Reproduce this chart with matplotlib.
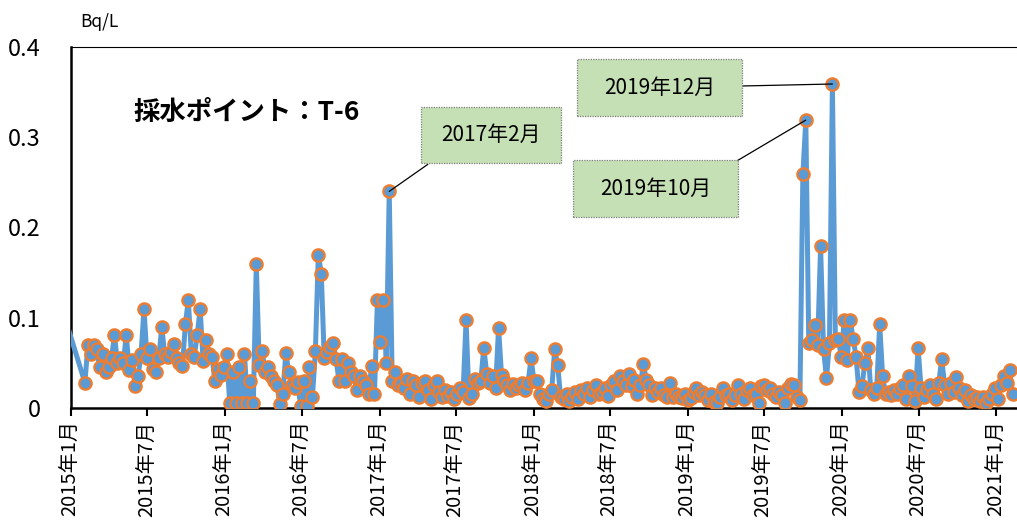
import matplotlib
matplotlib.use("Agg")
import matplotlib.pyplot as plt
from matplotlib.patches import Rectangle
import pandas as pd

plt.rcParams['font.family'] = ['Noto Sans CJK JP', 'DejaVu Sans']

# ---- data ----
lead_date = "2014-12-09"
lead_value = 0.113
start_date = "2015-02-03"   # weekly sampling afterwards
values = [
    0.028, 0.070, 0.060, 0.070, 0.065, 0.045, 0.060, 0.040, 0.045, 0.055,
    0.081, 0.050, 0.055, 0.050, 0.081, 0.042, 0.053, 0.024, 0.035, 0.060,
    0.110, 0.055, 0.065, 0.043, 0.040, 0.055, 0.090, 0.060, 0.057, 0.062,
    0.071, 0.055, 0.050, 0.046, 0.093, 0.120, 0.060, 0.057, 0.081, 0.110,
    0.052, 0.075, 0.060, 0.057, 0.030, 0.043, 0.037, 0.045, 0.060, 0.005,
    0.040, 0.005, 0.045, 0.005, 0.060, 0.005, 0.030, 0.005, 0.160, 0.048,
    0.063, 0.040, 0.045, 0.035, 0.030, 0.025, 0.004, 0.016, 0.061, 0.040,
    0.026, 0.022, 0.029, 0.002, 0.030, 0.002, 0.045, 0.012, 0.063, 0.170,
    0.149, 0.055, 0.062, 0.068, 0.072, 0.054, 0.030, 0.054, 0.030, 0.050,
    0.040, 0.035, 0.020, 0.035, 0.030, 0.026, 0.015, 0.046, 0.015, 0.120,
    0.073, 0.120, 0.050, 0.240, 0.030, 0.040, 0.025, 0.028, 0.022, 0.032,
    0.015, 0.030, 0.025, 0.012, 0.028, 0.030, 0.020, 0.010, 0.025, 0.030,
    0.018, 0.012, 0.020, 0.013, 0.018, 0.010, 0.015, 0.022, 0.018, 0.097,
    0.011, 0.016, 0.032, 0.028, 0.030, 0.067, 0.038, 0.028, 0.036, 0.022,
    0.089, 0.037, 0.030, 0.025, 0.020, 0.027, 0.022, 0.025, 0.028, 0.020,
    0.028, 0.055, 0.030, 0.030, 0.016, 0.010, 0.008, 0.015, 0.020, 0.065,
    0.048, 0.012, 0.010, 0.015, 0.008, 0.012, 0.018, 0.010, 0.020, 0.015,
    0.022, 0.012, 0.020, 0.025, 0.015, 0.018, 0.022, 0.013, 0.025, 0.030,
    0.020, 0.035, 0.030, 0.025, 0.038, 0.024, 0.031, 0.016, 0.025, 0.049,
    0.031, 0.025, 0.014, 0.022, 0.018, 0.022, 0.014, 0.012, 0.028, 0.012,
    0.015, 0.012, 0.011, 0.016, 0.009, 0.011, 0.018, 0.022, 0.014, 0.018,
    0.014, 0.009, 0.016, 0.007, 0.005, 0.012, 0.022, 0.014, 0.016, 0.009,
    0.014, 0.025, 0.016, 0.010, 0.020, 0.022, 0.014, 0.016, 0.005, 0.024,
    0.026, 0.020, 0.022, 0.016, 0.012, 0.018, 0.014, 0.005, 0.022, 0.027,
    0.025, 0.012, 0.009, 0.259, 0.319, 0.072, 0.075, 0.092, 0.070, 0.179,
    0.065, 0.033, 0.072, 0.359, 0.075, 0.076, 0.057, 0.098, 0.053, 0.098,
    0.077, 0.057, 0.018, 0.024, 0.050, 0.066, 0.020, 0.015, 0.022, 0.093,
    0.035, 0.015, 0.018, 0.014, 0.020, 0.016, 0.022, 0.025, 0.010, 0.035,
    0.024, 0.008, 0.067, 0.022, 0.012, 0.020, 0.025, 0.015, 0.010, 0.028,
    0.054, 0.025, 0.015, 0.028, 0.018, 0.034, 0.022, 0.014, 0.020, 0.008,
    0.014, 0.010, 0.012, 0.008, 0.012, 0.006, 0.010, 0.015, 0.022, 0.010,
    0.025, 0.035, 0.028, 0.042, 0.015,
]
dates = [pd.Timestamp(lead_date)] + list(pd.date_range(start_date, periods=len(values), freq="7D"))
series = [lead_value] + values

y_ticks = [0, 0.1, 0.2, 0.3, 0.4]
y_tick_labels = ["0", "0.1", "0.2", "0.3", "0.4"]
x_tick_dates = pd.date_range("2015-01-01", "2021-01-01", freq="6MS")
x_tick_labels = [f"{d.year}年{d.month}月" for d in x_tick_dates]
title = "採水ポイント：T-6"
unit = "Bq/L"
# label, search window for the annotated peak
callouts = [("2017年2月", "2017-01", "2017-02"),
            ("2019年12月", "2019-11-15", "2019-12-31"),
            ("2019年10月", "2019-10", "2019-10")]

# ---- figure ----
W, H = 1017, 527
fig = plt.figure(figsize=(W / 100, H / 100), dpi=100)
ax = fig.add_axes([71 / W, (H - 408) / H, 945 / W, 361 / H])

ax.plot(dates, series, color="#5B9BD5", lw=3.6, marker="o", markersize=8.8,
        markerfacecolor="#5B9BD5", markeredgecolor="#ED7D31", markeredgewidth=1.7,
        solid_joinstyle="round", zorder=3)

ax.set_xlim(pd.Timestamp("2015-01-01"), pd.Timestamp("2021-02-17"))
ax.set_ylim(0, 0.4)
ax.set_yticks(y_ticks)
ax.set_yticklabels(y_tick_labels, fontsize=17)
ax.tick_params(axis="y", length=0, pad=22)
ax.set_xticks(x_tick_dates)
ax.set_xticklabels(x_tick_labels, rotation=90, fontsize=14.5)
ax.tick_params(axis="x", direction="out", length=6, width=1.5, pad=3)

for sp in ["left", "bottom"]:
    ax.spines[sp].set_linewidth(1.8)
    ax.spines[sp].set_color("black")
ax.spines["top"].set_linewidth(0.8)
ax.spines["top"].set_color("black")
ax.spines["right"].set_visible(False)

fig.text(80 / W, 1 - 22 / H, unit, fontsize=12.5, va="center", ha="left")
ax.text(0.0656, 0.818, title, transform=ax.transAxes, fontsize=19,
        fontweight="bold", va="center", ha="left")

# callout boxes (axes-fraction geometry) and leader lines
box_geo = {
    "2017年2月": ((0.370, 0.679, 0.149, 0.155), (0.3776, 0.675)),
    "2019年12月": ((0.5354, 0.809, 0.1746, 0.158), (0.710, 0.892)),
    "2019年10月": ((0.531, 0.529, 0.175, 0.158), (0.705, 0.685)),
}
s = pd.Series(series, index=dates)
for label, w0, w1 in callouts:
    (bx, by, bw, bh), (lx, ly) = box_geo[label]
    sub = s[w0:w1]
    pdate = sub.idxmax()
    pval = sub.max()
    ax.add_patch(Rectangle((bx, by), bw, bh, transform=ax.transAxes,
                           facecolor="#C5E0B4", edgecolor="#7F7F7F",
                           linestyle=(0, (1, 1)), lw=0.9, zorder=5))
    ax.text(bx + bw / 2, by + bh / 2, label, transform=ax.transAxes,
            fontsize=15, ha="center", va="center", zorder=6)
    ax.annotate("", xy=(pdate, pval), xycoords="data", xytext=(lx, ly),
                textcoords="axes fraction",
                arrowprops=dict(arrowstyle="-", color="black", lw=0.9,
                                shrinkA=0, shrinkB=0), zorder=4)

fig.savefig("out.png", dpi=100)
